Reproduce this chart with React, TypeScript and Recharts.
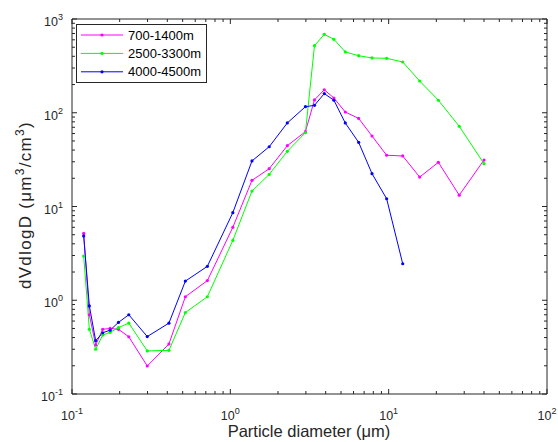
import React from "react";
import { LineChart, Line, XAxis, YAxis, Legend } from "recharts";

// ---------------------------------------------------------------------------
// Data
// ---------------------------------------------------------------------------

const diameters = [
  0.1185, 0.1287, 0.1411, 0.1563, 0.1741, 0.1965, 0.2284, 0.2988, 0.4093, 0.52,
  0.716, 1.037, 1.37, 1.76, 2.29, 2.98, 3.4, 3.92, 4.51, 5.32, 6.46, 7.85, 9.71,
  12.27, 15.7, 20.6, 27.9, 40.0,
];

const low = [
  5.18, 0.7, 0.333, 0.49, 0.5, 0.49, 0.408, 0.199, 0.341, 1.09, 1.62, 6.0, 19.0,
  25.3, 44.5, 62.8, 137, 176, 143.6, 101.8, 87, 56.5, 35.2, 34.6, 20.6, 29.6,
  13.2, 31.3,
];

const mid = [
  2.96, 0.49, 0.3, 0.425, 0.455, 0.51, 0.57, 0.288, 0.292, 0.74, 1.09, 4.35,
  14.6, 22.0, 38.8, 61.3, 519, 686, 607, 445, 406, 384, 381, 348, 218, 136, 71.7,
  28.6,
];

const high = [
  4.85, 0.87, 0.37, 0.45, 0.48, 0.58, 0.7, 0.41, 0.57, 1.6, 2.3, 8.6, 30.6, 43.4,
  77.8, 116, 120, 160, 136, 77.8, 48.4, 22.4, 12.1, 2.45,
];

const seriesNames = ["700-1400m", "2500-3300m", "4000-4500m"];
const seriesColors = ["#FF00FF", "#00FF00", "#0000FF"];
const seriesValues = [low, mid, high];

const xMajor = [0.1, 1, 10, 100];
const yMajor = [0.1, 1, 10, 100, 1000];
const minorSteps = [2, 3, 4, 5, 6, 7, 8, 9];

const withMinor = (majors: number[]) =>
  majors.flatMap((m, i) =>
    i < majors.length - 1 ? [m, ...minorSteps.map((s) => +(m * s).toPrecision(3))] : [m]
  );

const xTicks = withMinor(xMajor);
const yTicks = withMinor(yMajor);

const series = seriesNames.map((name, i) => ({
  name,
  color: seriesColors[i],
  data: seriesValues[i].map((v, j) => ({ x: diameters[j], y: v })),
}));

// ---------------------------------------------------------------------------
// Styling helpers
// ---------------------------------------------------------------------------

const FONT = "Arial, 'Liberation Sans', Helvetica, sans-serif";
const AXIS = "#262626";
const MAJOR_LEN = 5;
const MINOR_LEN = 3;

const isMajor = (v: number, majors: number[]) =>
  majors.some((m) => Math.abs(m - v) / m < 1e-6);

const exponent = (v: number) => Math.round(Math.log10(v));

function PowerLabel({ x, y, value, anchor }: { x: number; y: number; value: number; anchor: "middle" | "end" }) {
  return (
    <text x={x} y={y} textAnchor={anchor} fontFamily={FONT} fontSize={12.5} fill={AXIS}>
      <tspan>10</tspan>
      <tspan dy={-6} fontSize={9}>
        {exponent(value)}
      </tspan>
    </text>
  );
}

type TickProps = { x?: number; y?: number; payload?: { value: number } };

function BottomTick({ x = 0, y = 0, payload }: TickProps) {
  const v = payload?.value ?? 1;
  const major = isMajor(v, xMajor);
  return (
    <g>
      <line x1={x} x2={x} y1={y} y2={y - (major ? MAJOR_LEN : MINOR_LEN)} stroke={AXIS} />
      {major && <PowerLabel x={x} y={y + 26} value={v} anchor="middle" />}
    </g>
  );
}

function TopTick({ x = 0, y = 0, payload }: TickProps) {
  const v = payload?.value ?? 1;
  const major = isMajor(v, xMajor);
  return <line x1={x} x2={x} y1={y} y2={y + (major ? MAJOR_LEN : MINOR_LEN)} stroke={AXIS} />;
}

function LeftTick({ x = 0, y = 0, payload }: TickProps) {
  const v = payload?.value ?? 1;
  const major = isMajor(v, yMajor);
  return (
    <g>
      <line x1={x} x2={x + (major ? MAJOR_LEN : MINOR_LEN)} y1={y} y2={y} stroke={AXIS} />
      {major && <PowerLabel x={x - 9} y={y + 7} value={v} anchor="end" />}
    </g>
  );
}

function RightTick({ x = 0, y = 0, payload }: TickProps) {
  const v = payload?.value ?? 1;
  const major = isMajor(v, yMajor);
  return <line x1={x} x2={x - (major ? MAJOR_LEN : MINOR_LEN)} y1={y} y2={y} stroke={AXIS} />;
}

function XTitle() {
  return (
    <text x={309} y={437} textAnchor="middle" fontFamily={FONT} fontSize={16.5} fill={AXIS}>
      Particle diameter (μm)
    </text>
  );
}

function YTitle() {
  return (
    <text
      transform="translate(31,205) rotate(-90)"
      textAnchor="middle"
      fontFamily={FONT}
      fontSize={17}
      letterSpacing={1.3}
      fill={AXIS}
    >
      <tspan>dVdlogD (μm</tspan>
      <tspan dy={-7} fontSize={12}>3</tspan>
      <tspan dy={7}>/cm</tspan>
      <tspan dy={-7} fontSize={12}>3</tspan>
      <tspan dy={7}>)</tspan>
    </text>
  );
}

function LegendBox() {
  return (
    <svg width={132} height={60} style={{ display: "block" }}>
      <rect x={0.5} y={0.5} width={130} height={58} fill="#fff" stroke={AXIS} />
      {series.map((s, i) => {
        const cy = 11 + i * 18.4;
        return (
          <g key={s.name}>
            <line x1={5} x2={47} y1={cy} y2={cy} stroke={s.color} strokeWidth={1} />
            <circle cx={26} cy={cy} r={1.6} fill={s.color} />
            <text x={52} y={cy + 4.5} fontFamily={FONT} fontSize={13} fill="#000">
              {s.name}
            </text>
          </g>
        );
      })}
    </svg>
  );
}

// ---------------------------------------------------------------------------
// Component
// ---------------------------------------------------------------------------

export default function App() {
  return (
    <div style={{ position: "absolute", left: 0, top: 0, width: 558, height: 442, background: "#fff" }}>
      <LineChart width={558} height={442} margin={{ top: 18, right: 10, bottom: 0, left: 0 }}>
        <XAxis
          xAxisId="bottom"
          dataKey="x"
          type="number"
          scale="log"
          domain={[0.1, 100]}
          ticks={xTicks}
          interval={0}
          allowDataOverflow
          height={48}
          tickSize={0}
          tickMargin={0}
          tick={<BottomTick />}
          axisLine={{ stroke: AXIS }}
          label={<XTitle />}
        />
        <XAxis
          xAxisId="top"
          orientation="top"
          dataKey="x"
          type="number"
          scale="log"
          domain={[0.1, 100]}
          ticks={xTicks}
          interval={0}
          allowDataOverflow
          height={1}
          tickSize={0}
          tickMargin={0}
          tick={<TopTick />}
          axisLine={{ stroke: AXIS }}
        />
        <YAxis
          yAxisId="left"
          type="number"
          scale="log"
          domain={[0.1, 1000]}
          ticks={yTicks}
          interval={0}
          allowDataOverflow
          width={72}
          tickSize={0}
          tickMargin={0}
          tick={<LeftTick />}
          axisLine={{ stroke: AXIS }}
          label={<YTitle />}
        />
        <YAxis
          yAxisId="right"
          orientation="right"
          type="number"
          scale="log"
          domain={[0.1, 1000]}
          ticks={yTicks}
          interval={0}
          allowDataOverflow
          width={1}
          tickSize={0}
          tickMargin={0}
          tick={<RightTick />}
          axisLine={{ stroke: AXIS }}
        />
        <Legend
          layout="horizontal"
          verticalAlign="middle"
          align="center"
          content={() => <LegendBox />}
          wrapperStyle={{ position: "absolute", left: 76, top: 24, width: 132, height: 60 }}
        />
        {series.map((s) => (
          <Line
            key={s.name}
            xAxisId="bottom"
            yAxisId="left"
            data={s.data}
            dataKey="y"
            name={s.name}
            type="linear"
            stroke={s.color}
            strokeWidth={1}
            dot={{ r: 1.6, fill: s.color, stroke: s.color, strokeWidth: 0 }}
            activeDot={false}
            isAnimationActive={false}
          />
        ))}
      </LineChart>
    </div>
  );
}
